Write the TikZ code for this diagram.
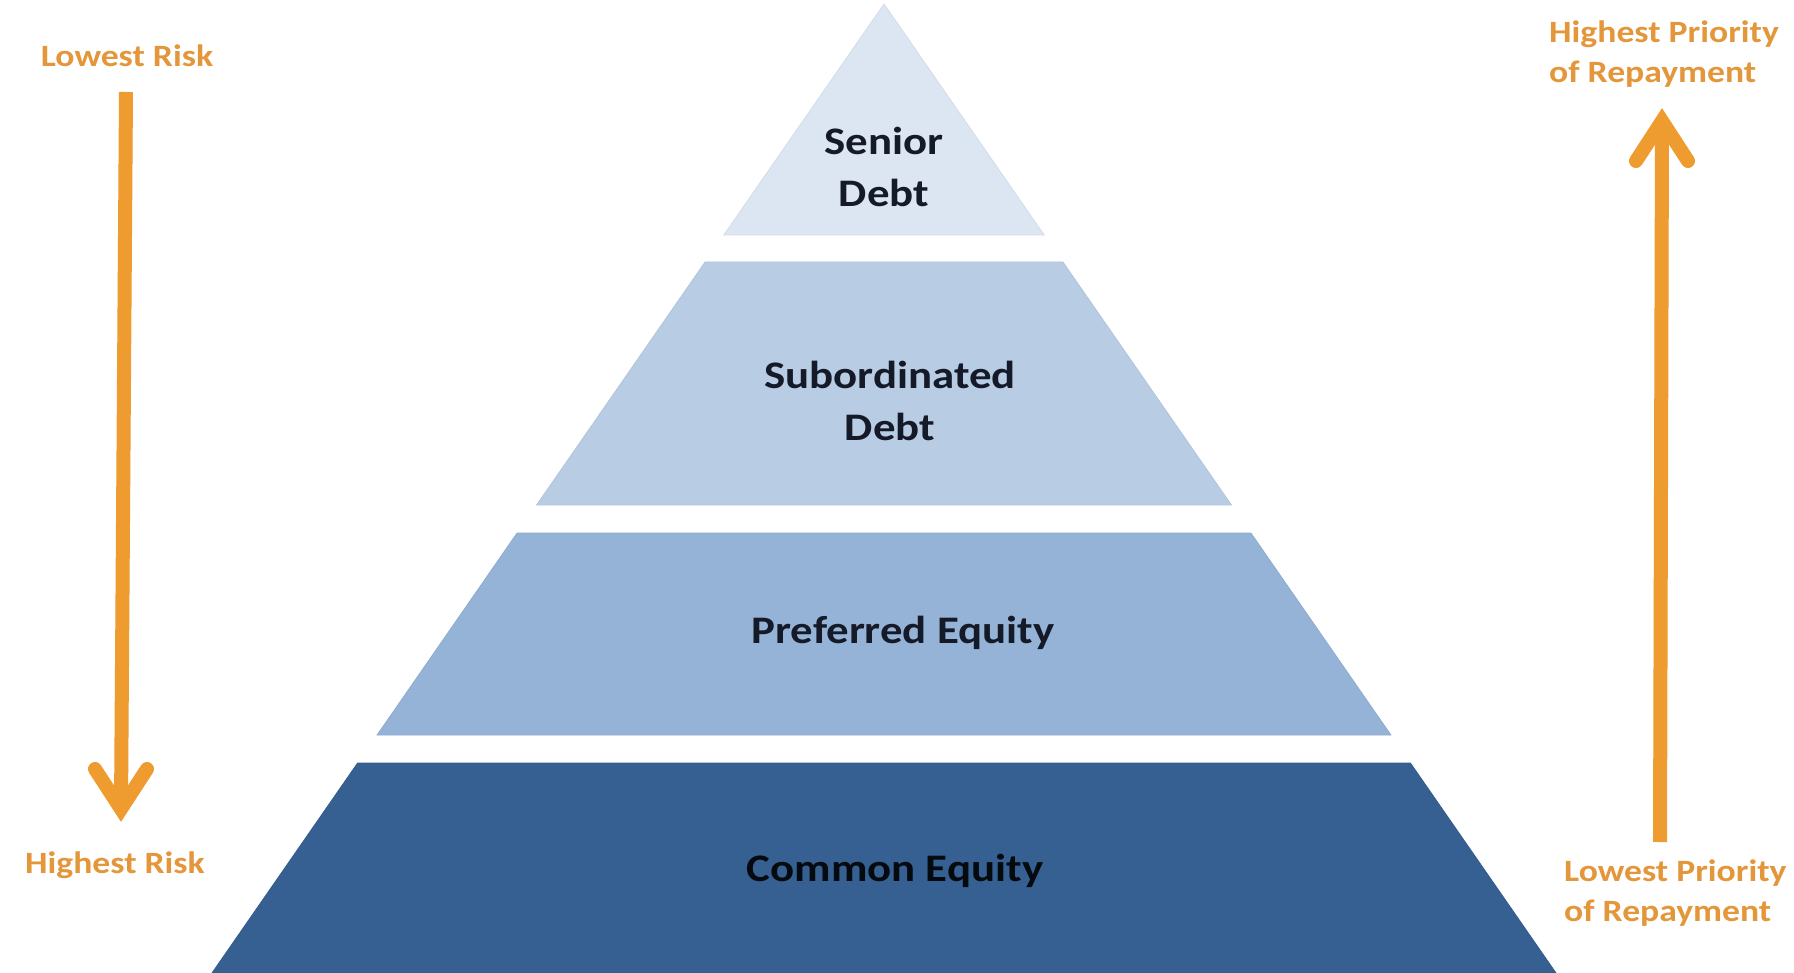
\documentclass[tikz,border=0pt]{standalone}
\usepackage{fontspec}
\setmainfont{Carlito}[FakeStretch=1.15]
\usetikzlibrary{calc}
\definecolor{lay1}{HTML}{DCE6F2}
\definecolor{lay2}{HTML}{B8CCE4}
\definecolor{lay3}{HTML}{95B3D7}
\definecolor{lay4}{HTML}{366092}
\definecolor{arrowor}{HTML}{EE9B2F}
\definecolor{textor}{HTML}{E3963A}
\definecolor{darktext}{HTML}{151A28}
\tikzset{
  layer/.style={fill=#1, draw=#1!96!black, line width=0.8pt, line join=miter},
  pyrtext/.style={font=\bfseries\fontsize{39}{52}\selectfont, text=darktext, align=center, inner sep=0pt},
  ortext/.style={font=\bfseries\fontsize{31}{40}\selectfont, text=textor, inner sep=0pt},
  shaft/.style={draw=arrowor, line width=14pt, line cap=butt},
  chevron/.style={draw=arrowor, line width=14pt, line cap=round, line join=miter}
}
\begin{document}
\begin{tikzpicture}[x=1pt,y=-1pt]
\useasboundingbox[fill=white] (0,0) rectangle (1794,973);
% pyramid layers
\path[layer=lay1] (884,4) -- (1044.2,235) -- (723.8,235) -- cycle;
\path[layer=lay2] (705.1,262) -- (1062.9,262) -- (1231.4,505) -- (536.6,505) -- cycle;
\path[layer=lay3] (517.1,533) -- (1250.9,533) -- (1390.9,735) -- (377.1,735) -- cycle;
\path[layer=lay4] (357.6,763) -- (1410.4,763) -- (1556,973) -- (212,973) -- cycle;
% pyramid labels
\node[pyrtext] (senior) at (884,167) {Senior\\Debt};
\node[pyrtext] (subord) at (890,401) {Subordinated\\Debt};
\node[pyrtext] (pref) at (903,633) {Preferred Equity};
\node[pyrtext, text=black!90!lay4] (common) at (895,871) {Common Equity};
% side labels
\node[ortext] (lowrisk) at (127,56) {Lowest Risk};
\node[ortext] (highrisk) at (115,865) {Highest Risk};
\node[ortext, anchor=west, align=left] (highprio) at (1549,54) {Highest Priority\\of Repayment};
\node[ortext, anchor=west, align=left] (lowprio) at (1564,893) {Lowest Priority\\of Repayment};
% left arrow (down)
\coordinate (lrTop) at (126,92);
\coordinate (lrTip) at (121,809);
\coordinate (lrArmL) at ($(lrTip)+(-26,-40)$);
\coordinate (lrArmR) at ($(lrTip)+(26,-40)$);
\path[shaft] (lrTop) -- (lrTip);
\path[chevron] (lrArmL) -- (lrTip) -- (lrArmR);
% right arrow (up)
\coordinate (rpBot) at (1660,842);
\coordinate (rpTip) at (1662,121);
\coordinate (rpArmL) at ($(rpTip)+(-26,40)$);
\coordinate (rpArmR) at ($(rpTip)+(26,40)$);
\path[shaft] (rpBot) -- (rpTip);
\path[chevron] (rpArmL) -- (rpTip) -- (rpArmR);
\end{tikzpicture}
\end{document}
